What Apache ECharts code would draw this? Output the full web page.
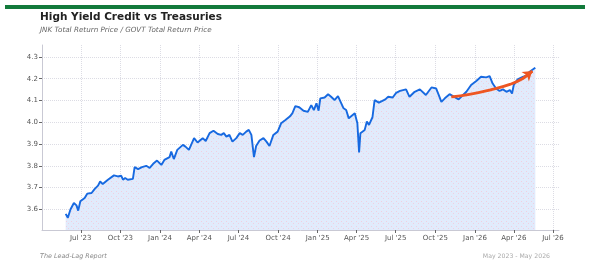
<!DOCTYPE html>
<html>
<head>
<meta charset="utf-8">
<script src="https://cdn.jsdelivr.net/npm/echarts@6/dist/echarts.min.js"></script>
<style>
  html, body { margin: 0; padding: 0; background: #fff; }
  #chart { width: 590px; height: 266px; }
</style>
</head>
<body>
<div id="chart"></div>
<script>
// JNK / GOVT ratio
var dates = [
  '2023-05-27','2023-06-01','2023-06-07','2023-06-15','2023-06-21','2023-06-25','2023-06-30',
  '2023-07-10','2023-07-16','2023-07-26','2023-08-02','2023-08-10','2023-08-15','2023-08-21',
  '2023-09-02','2023-09-16','2023-09-25','2023-10-03','2023-10-07','2023-10-12','2023-10-18',
  '2023-10-30','2023-11-03','2023-11-11','2023-11-20','2023-11-30','2023-12-08','2023-12-16',
  '2023-12-25','2024-01-04','2024-01-11','2024-01-23','2024-01-27','2024-02-02','2024-02-10',
  '2024-02-23','2024-02-29','2024-03-08','2024-03-20','2024-03-28','2024-04-09','2024-04-16',
  '2024-04-25','2024-05-04','2024-05-14','2024-05-22','2024-05-28','2024-06-03','2024-06-10',
  '2024-06-17','2024-06-26','2024-07-04','2024-07-11','2024-07-19','2024-07-25','2024-07-31',
  '2024-08-06','2024-08-11','2024-08-19','2024-08-28','2024-09-04','2024-09-11','2024-09-20',
  '2024-09-30','2024-10-08','2024-10-18','2024-10-28','2024-11-03','2024-11-10','2024-11-19',
  '2024-11-29','2024-12-09','2024-12-17','2024-12-23','2024-12-29','2025-01-03','2025-01-07',
  '2025-01-17','2025-01-25','2025-02-01','2025-02-09','2025-02-17','2025-02-21','2025-03-02',
  '2025-03-08','2025-03-14','2025-03-28','2025-04-03','2025-04-07','2025-04-10','2025-04-20',
  '2025-04-25','2025-04-30','2025-05-08','2025-05-13','2025-05-23','2025-06-07','2025-06-13',
  '2025-06-24','2025-07-02','2025-07-11','2025-07-25','2025-08-02','2025-08-14','2025-08-26',
  '2025-09-09','2025-09-22','2025-10-03','2025-10-09','2025-10-15','2025-10-23','2025-11-03',
  '2025-11-11','2025-11-15','2025-11-24','2025-11-30','2025-12-12','2025-12-23','2026-01-04',
  '2026-01-15','2026-01-27','2026-02-04','2026-02-11','2026-02-19','2026-02-27','2026-03-07',
  '2026-03-15','2026-03-23','2026-03-28','2026-04-01','2026-04-10','2026-04-22','2026-05-02',
  '2026-05-07','2026-05-15','2026-05-21'
];
var ratio = [
  3.579,3.561,3.599,3.629,3.618,3.594,3.637,
  3.652,3.672,3.675,3.693,3.709,3.728,3.716,
  3.736,3.756,3.751,3.754,3.736,3.744,3.736,
  3.740,3.794,3.785,3.794,3.800,3.790,3.809,
  3.824,3.804,3.827,3.840,3.865,3.831,3.873,
  3.896,3.888,3.873,3.927,3.907,3.927,3.914,
  3.950,3.961,3.946,3.942,3.950,3.934,3.942,
  3.911,3.927,3.950,3.942,3.957,3.965,3.942,
  3.840,3.891,3.916,3.927,3.911,3.891,3.942,
  3.957,3.995,4.010,4.026,4.041,4.074,4.069,
  4.053,4.048,4.079,4.056,4.087,4.053,4.110,
  4.114,4.129,4.117,4.102,4.120,4.114,4.064,
  4.056,4.018,4.041,3.995,3.861,3.950,3.965,
  4.003,3.988,4.023,4.102,4.090,4.105,4.117,
  4.114,4.135,4.144,4.151,4.117,4.140,4.151,
  4.125,4.160,4.155,4.125,4.094,4.110,4.129,
  4.120,4.128,4.105,4.117,4.140,4.171,4.190,
  4.209,4.206,4.212,4.178,4.155,4.144,4.151,
  4.140,4.148,4.132,4.171,4.197,4.209,4.216,
  4.231,4.242,4.251
];

// orange trend arrow
var arrowDates = ['2025-11-07','2025-12-19','2026-02-04','2026-03-23','2026-04-22','2026-05-14'];
var arrowVals = [4.117, 4.128, 4.148, 4.174, 4.201, 4.235];

// axis ticks
var xTicks = ['2023-07-01','2023-10-01','2024-01-01','2024-04-01','2024-07-01','2024-10-01',
  '2025-01-01','2025-04-01','2025-07-01','2025-10-01','2026-01-01','2026-04-01','2026-07-01'];
var yTicks = [3.6, 3.7, 3.8, 3.9, 4.0, 4.1, 4.2, 4.3];

var monthNames = ['Jan','Feb','Mar','Apr','May','Jun','Jul','Aug','Sep','Oct','Nov','Dec'];

function ts(s) {
  var p = s.split('-');
  return Date.UTC(+p[0], +p[1] - 1, +p[2]);
}

var lineData = [];
for (var i = 0; i < dates.length; i++) {
  lineData.push([ts(dates[i]), ratio[i]]);
}
var arrowData = [];
for (var j = 0; j < arrowDates.length; j++) {
  arrowData.push([ts(arrowDates[j]), arrowVals[j]]);
}
var xTickVals = xTicks.map(ts);

// dotted fill like the original
var pat = document.createElement('canvas');
pat.width = 5; pat.height = 5;
var pc = pat.getContext('2d');
pc.fillStyle = '#e1ebfc';
pc.fillRect(0, 0, 5, 5);
pc.fillStyle = '#f0cfe0';
pc.fillRect(1, 1, 1, 1);
pc.fillRect(3, 3, 1, 1);

var font = 'DejaVu Sans';
var myChart = echarts.init(document.getElementById('chart'), null, { renderer: 'canvas' });

var option = {
  animation: false,
  backgroundColor: '#fff',
  title: [
    {
      text: 'High Yield Credit vs Treasuries',
      subtext: 'JNK Total Return Price / GOVT Total Return Price',
      left: 40,
      top: 12,
      padding: 0,
      itemGap: 4,
      textStyle: { fontFamily: font, fontSize: 10.5, fontWeight: 'bold', color: '#222' },
      subtextStyle: { fontFamily: font, fontSize: 7.2, fontStyle: 'italic', color: '#666' }
    },
    {
      text: 'The Lead-Lag Report',
      left: 40,
      top: 253,
      padding: 0,
      textStyle: { fontFamily: font, fontSize: 6.4, fontStyle: 'italic', fontWeight: 'normal', color: '#888' }
    },
    {
      text: 'May 2023 - May 2026',
      right: 40,
      top: 253,
      padding: 0,
      textStyle: { fontFamily: font, fontSize: 6.2, fontWeight: 'normal', color: '#aaa' }
    }
  ],
  graphic: [
    {
      type: 'rect',
      shape: { x: 5, y: 5, width: 580, height: 4 },
      style: { fill: '#127a3b' }
    }
  ],
  grid: { left: 42, right: 31, top: 45, bottom: 36 },
  xAxis: {
    type: 'value',
    min: ts('2023-04-02'),
    max: ts('2026-07-15'),
    axisLine: { lineStyle: { color: '#c9c9d4' } },
    axisTick: { show: true, length: 3, lineStyle: { color: '#666' }, customValues: xTickVals },
    axisLabel: {
      customValues: xTickVals,
      fontFamily: font, fontSize: 7, color: '#555', margin: 5,
      formatter: function (v) {
        var d = new Date(v);
        return monthNames[d.getUTCMonth()] + " '" + String(d.getUTCFullYear()).slice(2);
      }
    },
    splitLine: { show: true, lineStyle: { color: '#dcdce4', type: 'dotted' } }
  },
  yAxis: {
    type: 'value',
    min: 3.505,
    max: 4.355,
    axisLine: { show: true, lineStyle: { color: '#c9c9d4' } },
    axisTick: { show: true, length: 3, lineStyle: { color: '#666' }, customValues: yTicks },
    axisLabel: {
      customValues: yTicks,
      fontFamily: font, fontSize: 7, color: '#555', margin: 4,
      formatter: function (v) { return v.toFixed(1); }
    },
    splitLine: { show: true, lineStyle: { color: '#dcdce4', type: 'dotted' } }
  },
  series: [
    {
      name: 'JNK/GOVT',
      type: 'line',
      data: lineData,
      symbol: 'none',
      lineStyle: { color: '#1769e0', width: 1.9 },
      areaStyle: { color: { image: pat, repeat: 'repeat' }, opacity: 1 },
      z: 2
    },
    {
      name: 'trend',
      type: 'line',
      data: arrowData,
      smooth: true,
      symbol: 'none',
      lineStyle: { color: '#ee5622', width: 2.8 },
      z: 3,
      markLine: {
        silent: true,
        symbol: ['none', 'arrow'],
        symbolSize: 9,
        label: { show: false },
        lineStyle: { color: '#ee5622', width: 2.8, type: 'solid' },
        data: [[{ coord: arrowData[arrowData.length - 2] }, { coord: arrowData[arrowData.length - 1] }]]
      }
    }
  ]
};

myChart.setOption(option);
</script>
</body>
</html>
